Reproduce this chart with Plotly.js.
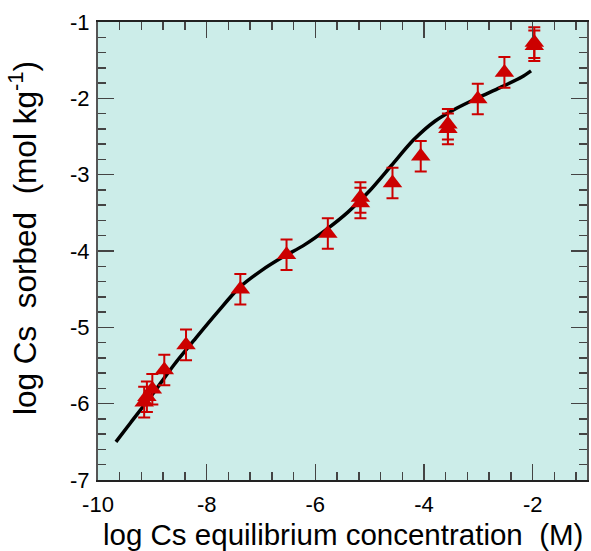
<!DOCTYPE html>
<html>
<head>
<meta charset="utf-8">
<script src="https://cdn.plot.ly/plotly-3.0.1.min.js"></script>
<style>html,body{margin:0;padding:0;background:#fff;}#chart{width:591px;height:551px;}</style>
</head>
<body>
<div id="chart"></div>
<script>
// Measured data points (log Cs equilibrium conc., log Cs sorbed)
const pointX = [-9.15, -9.10, -9.00, -8.78, -8.38, -7.38, -6.53, -5.77, -5.17, -5.17, -4.58, -4.06, -3.56, -3.56, -3.01, -2.52, -1.97, -1.97];
const pointY = [-5.98, -5.91, -5.81, -5.56, -5.23, -4.50, -4.05, -3.77, -3.30, -3.37, -3.11, -2.76, -2.34, -2.40, -2.01, -1.66, -1.27, -1.31];
const pointErr = [0.2, 0.2, 0.2, 0.2, 0.2, 0.2, 0.2, 0.2, 0.2, 0.2, 0.2, 0.2, 0.2, 0.2, 0.2, 0.2, 0.2, 0.2];

// Model curve
const curveX = [-9.67, -9.40, -9.00, -8.60, -8.20, -7.80, -7.40, -7.00, -6.60, -6.20, -5.80, -5.40, -5.00, -4.60, -4.20, -3.80, -3.40, -3.00, -2.60, -2.20, -2.03];
const curveY = [-6.50, -6.25, -5.88, -5.49, -5.14, -4.80, -4.48, -4.26, -4.08, -3.92, -3.72, -3.49, -3.21, -2.88, -2.55, -2.30, -2.13, -1.99, -1.86, -1.72, -1.64];

// Tick labels
const xTickVals = [-10, -8, -6, -4, -2];
const xTickText = ['-10', '-8', '-6', '-4', '-2'];
const yTickVals = [-7, -6, -5, -4, -3, -2, -1];
const yTickText = ['-7', '-6', '-5', '-4', '-3', '-2', '-1'];

const fam = 'Liberation Sans, Arial, sans-serif';

const traces = [
  {
    x: curveX, y: curveY, type: 'scatter', mode: 'lines',
    line: {color: '#000', width: 3.5, shape: 'spline', smoothing: 0.8},
    hoverinfo: 'skip', showlegend: false
  },
  {
    x: pointX, y: pointY, type: 'scatter', mode: 'markers',
    marker: {symbol: 'triangle-up', size: 17, color: '#cc0000', line: {width: 0}},
    error_y: {type: 'data', array: pointErr, visible: true, color: '#cc0000', thickness: 2, width: 6},
    showlegend: false
  }
];

const layout = {
  width: 591, height: 551,
  margin: {l: 98, r: 4, t: 22, b: 71},
  paper_bgcolor: '#fff',
  plot_bgcolor: '#ccede9',
  font: {family: fam, color: '#000'},
  xaxis: {
    range: [-10, -1], tickmode: 'array', tickvals: xTickVals, ticktext: xTickText,
    ticks: 'inside', ticklen: 16, tickwidth: 1.5, tickcolor: '#444',
    showline: true, linecolor: '#222', linewidth: 2, mirror: 'allticks',
    showgrid: false, zeroline: false, ticklabelstandoff: 4,
    tickfont: {size: 22, family: fam, color: '#000'},
    minor: {dtick: 0.4, tick0: -10, ticks: 'inside', ticklen: 8, tickwidth: 1.5, tickcolor: '#444', showgrid: false}
  },
  yaxis: {
    range: [-7, -1], tickmode: 'array', tickvals: yTickVals, ticktext: yTickText,
    ticks: 'inside', ticklen: 16, tickwidth: 1.5, tickcolor: '#444',
    showline: true, linecolor: '#555', linewidth: 2, mirror: 'allticks',
    showgrid: false, zeroline: false, ticklabelstandoff: 2,
    tickfont: {size: 22, family: fam, color: '#000'},
    minor: {dtick: 0.2, tick0: -7, ticks: 'inside', ticklen: 8, tickwidth: 1.5, tickcolor: '#444', showgrid: false}
  },
  annotations: [
    {text: 'log Cs equilibrium concentration  (M)', xref: 'paper', yref: 'paper',
     x: 0.5, y: -0.1200, xanchor: 'center', yanchor: 'middle', showarrow: false,
     font: {size: 29.5, family: fam, color: '#000'}},
    {text: 'log Cs  sorbed  (mol kg<sup>-1</sup>)', xref: 'paper', yref: 'paper',
     x: -0.1534, y: 0.5284, xanchor: 'center', yanchor: 'middle', textangle: -90, showarrow: false,
     font: {size: 31.5, family: fam, color: '#000'}}
  ]
};

Plotly.newPlot('chart', traces, layout, {displayModeBar: false, staticPlot: true});
</script>
</body>
</html>
